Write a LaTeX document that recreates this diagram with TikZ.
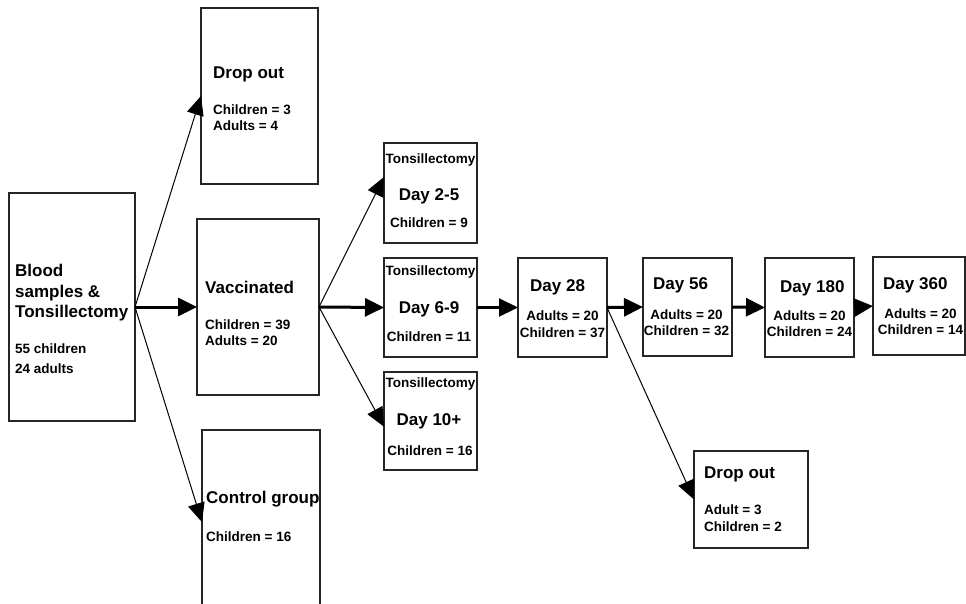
\documentclass[tikz,border=0pt]{standalone}
\usepackage{fontspec}
\setmainfont{Liberation Sans}
\usetikzlibrary{arrows.meta}

\tikzset{
  box/.style={draw=black!85, line width=1.3pt, inner sep=0pt, outer sep=0pt},
  ttl/.style={inner sep=0pt, anchor=base west, font=\fontsize{17}{20}\selectfont\bfseries},
  txt/.style={inner sep=0pt, anchor=base west, font=\fontsize{13.5}{16}\selectfont\bfseries},
  ctxt/.style={txt, anchor=base},
  lnk/.style={line width=1pt, -{Triangle[length=19pt,width=17pt]}},
  lnkmid/.style={line width=2.2pt, -{Triangle[length=19pt,width=18pt]}},
  lnkbold/.style={line width=3pt, -{Triangle[length=19pt,width=18pt]}}
}

\begin{document}
\begin{tikzpicture}[x=1pt,y=-1pt]
\useasboundingbox (0,0) rectangle (966,603);
\clip (0,0) rectangle (966,603);

% first column
\node[box, minimum width=126pt, minimum height=228pt] (blood) at (72,307) {};
\node[ttl] (bloodA) at (15,276) {Blood};
\node[ttl] (bloodB) at (15,297) {samples \&};
\node[ttl] (bloodC) at (15,317) {Tonsillectomy};
\node[txt] (bloodD) at (15,353) {55 children};
\node[txt] (bloodE) at (15,373) {24 adults};

% second column
\node[box, minimum width=117pt, minimum height=176pt] (dropA) at (259.5,96) {};
\node[ttl] (dropAa) at (213,78) {Drop out};
\node[txt] (dropAb) at (213,114) {Children = 3};
\node[txt] (dropAc) at (213,130) {Adults = 4};

\node[box, minimum width=122pt, minimum height=176pt] (vacc) at (258,307) {};
\node[ttl] (vaccA) at (205,293) {Vaccinated};
\node[txt] (vaccB) at (205,329) {Children = 39};
\node[txt] (vaccC) at (205,345) {Adults = 20};

\node[box, minimum width=118pt, minimum height=176pt] (control) at (261,518) {};
\node[ttl] (controlA) at (206,503) {Control group};
\node[txt] (controlB) at (206,541) {Children = 16};

% tonsillectomy days
\node[box, minimum width=93pt, minimum height=100pt] (tA) at (430.5,193) {};
\node[ctxt] (tAa) at (430.5,163) {Tonsillectomy};
\node[ctxt, font=\fontsize{17}{20}\selectfont\bfseries] (tAb) at (429,200) {Day 2-5};
\node[ctxt] (tAc) at (429,227) {Children = 9};

\node[box, minimum width=93pt, minimum height=99pt] (tB) at (430.5,307.5) {};
\node[ctxt] (tBa) at (430.5,275) {Tonsillectomy};
\node[ctxt, font=\fontsize{17}{20}\selectfont\bfseries] (tBb) at (429,313) {Day 6-9};
\node[ctxt] (tBc) at (429,341) {Children = 11};

\node[box, minimum width=93pt, minimum height=98pt] (tC) at (430.5,421) {};
\node[ctxt] (tCa) at (430.5,387) {Tonsillectomy};
\node[ctxt, font=\fontsize{17}{20}\selectfont\bfseries] (tCb) at (429,425) {Day 10+};
\node[ctxt] (tCc) at (430,455) {Children = 16};

% follow up
\node[box, minimum width=89pt, minimum height=99pt] (d28) at (562.5,307.5) {};
\node[ttl] (d28a) at (530,291) {Day 28};
\node[ctxt] (d28b) at (562.5,320) {Adults = 20};
\node[ctxt] (d28c) at (562.5,337) {Children = 37};

\node[box, minimum width=89pt, minimum height=98pt] (d56) at (687.5,307) {};
\node[ttl] (d56a) at (653,289) {Day 56};
\node[ctxt] (d56b) at (686.5,319) {Adults = 20};
\node[ctxt] (d56c) at (686.5,335) {Children = 32};

\node[box, minimum width=89pt, minimum height=99pt] (d180) at (809.5,307.5) {};
\node[ttl] (d180a) at (780,292) {Day 180};
\node[ctxt] (d180b) at (809.5,320) {Adults = 20};
\node[ctxt] (d180c) at (809.5,336) {Children = 24};

\node[box, minimum width=92pt, minimum height=98pt] (d360) at (919,306) {};
\node[ttl] (d360a) at (883,289) {Day 360};
\node[ctxt] (d360b) at (920.5,318) {Adults = 20};
\node[ctxt] (d360c) at (920.5,334) {Children = 14};

\node[box, minimum width=114pt, minimum height=97pt] (dropB) at (751,499.5) {};
\node[ttl] (dropBa) at (704,478) {Drop out};
\node[txt] (dropBb) at (704,514) {Adult = 3};
\node[txt] (dropBc) at (704,531) {Children = 2};

% arrows
\draw[lnkbold] (blood.east) -- (vacc.west);
\draw[lnk] (blood.east) -- (dropA.west);
\draw[lnk] (blood.east) -- (control.184);
\draw[lnk] (vacc.east) -- (tA.161);
\draw[lnkbold] (vacc.east) -- (tB.west);
\draw[lnk] (vacc.east) -- (tC.187);
\draw[lnkmid] (tB.east) -- (d28.west);
\draw[lnkbold] (d28.east) -- (d56.west);
\draw[lnkbold] (d56.east) -- (d180.west);
\draw[lnkbold] (d180.east) -- (d360.west);
\draw[lnk] (d28.east) -- (dropB.west);

\end{tikzpicture}
\end{document}
